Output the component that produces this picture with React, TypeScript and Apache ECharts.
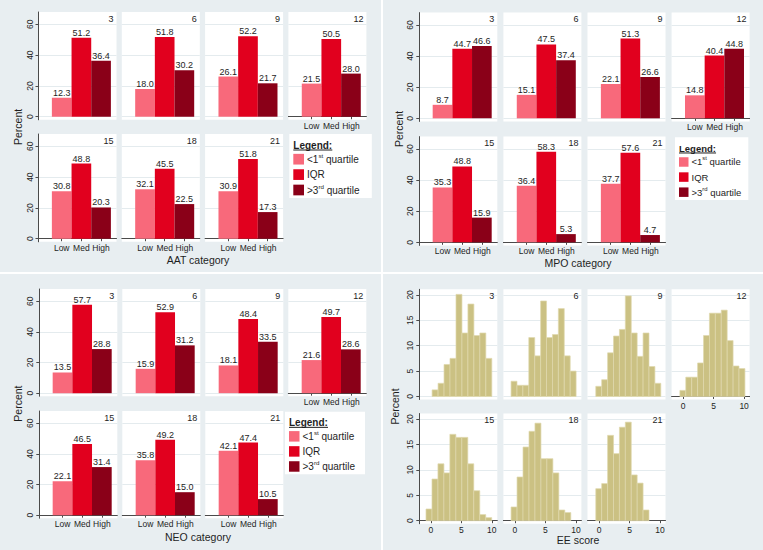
import React, { useEffect, useRef } from "react";
import * as echarts from "echarts";

const FONT = "'Liberation Sans', Arial, Helvetica, sans-serif";
const TEXT = "#1e1e1e";
const AXIS = "#4a4a4a";
const PANEL_BG = "#e8eef1";
const GRID_LINE = "#e4ebee";
const BAR_COLORS = ["#f8697b", "#e1001e", "#8a0018"];
const HIST_FILL = "#cbc183";
const HIST_EDGE = "#e0d9ad";

// ---------- data ----------
const timepoints = ["3", "6", "9", "12", "15", "18", "21"];
const levelCategories = ["Low", "Med", "High"];
const levelPositions = [1, 2, 3];
const legendTitle = "Legend:";
const legendLabels = ["<1{sup|st} quartile", "IQR", ">3{sup|rd} quartile"];
const barPercentTicks = [0, 20, 40, 60];
const histPercentTicks = [0, 5, 10, 15, 20];
const eeScoreTicks = [0, 5, 10];

const aatLow = [12.3, 18.0, 26.1, 21.5, 30.8, 32.1, 30.9];
const aatMed = [51.2, 51.8, 52.2, 50.5, 48.8, 45.5, 51.8];
const aatHigh = [36.4, 30.2, 21.7, 28.0, 20.3, 22.5, 17.3];

const mpoLow = [8.7, 15.1, 22.1, 14.8, 35.3, 36.4, 37.7];
const mpoMed = [44.7, 47.5, 51.3, 40.4, 48.8, 58.3, 57.6];
const mpoHigh = [46.6, 37.4, 26.6, 44.8, 15.9, 5.3, 4.7];

const neoLow = [13.5, 15.9, 18.1, 21.6, 22.1, 35.8, 42.1];
const neoMed = [57.7, 52.9, 48.4, 49.7, 46.5, 49.2, 47.4];
const neoHigh = [28.8, 31.2, 33.5, 28.6, 31.4, 15.0, 10.5];

const eeBinStart = [0.2, -0.64, -0.54, -0.54, -0.8, -0.64, -0.54];
const eeBinWidth = [0.98, 0.97, 0.97, 0.97, 0.98, 0.98, 0.97];
const ee3 = [1.3, 2.6, 6.3, 7.5, 20.1, 12.5, 18.2, 12.0, 12.5, 7.5];
const ee6 = [3.0, 2.2, 2.2, 11.6, 8.0, 18.8, 11.6, 12.2, 17.3, 8.0, 5.0];
const ee9 = [2.0, 3.3, 8.6, 11.9, 13.2, 19.8, 12.5, 7.9, 12.5, 5.9, 2.6];
const ee12 = [1.2, 3.8, 3.8, 6.6, 12.0, 16.4, 16.4, 17.0, 11.0, 6.0, 5.5];
const ee15 = [2.3, 8.2, 11.2, 9.4, 17.0, 16.4, 16.4, 11.2, 5.9, 1.2, 0.6];
const ee18 = [2.7, 8.6, 14.5, 17.6, 19.2, 12.2, 12.2, 9.4, 2.1, 1.6];
const ee21 = [6.3, 7.3, 16.8, 13.2, 18.4, 19.4, 9.0, 7.4, 2.1];
const eeHeights = [ee3, ee6, ee9, ee12, ee15, ee18, ee21];

// ---------- layout ----------
const BOX_W = 78;
const BAR_X_MIN = -0.18;
const BAR_X_MAX = 3.785;
const HIST_X_MIN = -1.9;
const HIST_X_MAX = 10.9;

type Legend = { x: number; y: number; w: number; h: number; fs: number; sw: number };
type Panel = {
  kind: "bar" | "hist";
  ox: number;
  oy: number;
  colLeft: number;
  colStep: number;
  rowTops: number[];
  rowH: number;
  yMin: number;
  yMax: number;
  percentX: number;
  title: string;
  titleY: number;
  legend?: Legend;
  series?: number[][];
};

const panels: Panel[] = [
  {
    kind: "bar", ox: 0, oy: 0, colLeft: 38.5, colStep: 83.3, rowTops: [12, 134], rowH: 70 * 1.54,
    yMin: -2, yMax: 68, percentX: 18, title: "AAT category", titleY: 260,
    legend: { x: 289.3, y: 134, w: 82.5, h: 64, fs: 10, sw: 10.7 },
    series: [aatLow, aatMed, aatHigh],
  },
  {
    kind: "bar", ox: 380, oy: 0, colLeft: 39.3, colStep: 84.1, rowTops: [12.6, 136.6], rowH: 70 * 1.555,
    yMin: -2, yMax: 68, percentX: 18.5, title: "MPO category", titleY: 263,
    legend: { x: 295, y: 137.3, w: 73.3, h: 62.7, fs: 9.5, sw: 9.5 },
    series: [mpoLow, mpoMed, mpoHigh],
  },
  {
    kind: "bar", ox: 0, oy: 274, colLeft: 39.3, colStep: 83, rowTops: [15, 137], rowH: 70 * 1.532,
    yMin: -2, yMax: 68, percentX: 18, title: "NEO category", titleY: 262.5,
    legend: { x: 285, y: 137.7, w: 80, h: 62.6, fs: 10, sw: 10.5 },
    series: [neoLow, neoMed, neoHigh],
  },
  {
    kind: "hist", ox: 380, oy: 274, colLeft: 39.3, colStep: 84.1, rowTops: [15.3, 139.5], rowH: 21.7 * 5.08,
    yMin: -0.6, yMax: 21.1, percentX: 15, title: "EE score", titleY: 265.5,
  },
];

function buildOption() {
  const grid: any[] = [];
  const xAxis: any[] = [];
  const yAxis: any[] = [];
  const series: any[] = [];
  const graphic: any[] = [];

  graphic.push({ type: "rect", shape: { x: 381, y: 0, width: 2, height: 550 }, style: { fill: "#ffffff" }, z: 100 });
  graphic.push({ type: "rect", shape: { x: 0, y: 272, width: 763, height: 2 }, style: { fill: "#ffffff" }, z: 100 });

  panels.forEach((p) => {
    const isBar = p.kind === "bar";
    for (let i = 0; i < 7; i++) {
      const row = i < 4 ? 0 : 1;
      const col = i < 4 ? i : i - 4;
      const left = p.ox + p.colLeft + col * p.colStep;
      const top = p.oy + p.rowTops[row];
      const g = grid.length;
      const showX = i >= 3;
      const showY = col === 0;
      grid.push({ left, top, width: BOX_W, height: p.rowH, show: true, backgroundColor: "#ffffff", borderWidth: 0 });

      const xTicks = isBar ? levelPositions : eeScoreTicks;
      xAxis.push({
        type: "value",
        gridIndex: g,
        min: isBar ? BAR_X_MIN : HIST_X_MIN,
        max: isBar ? BAR_X_MAX : HIST_X_MAX,
        axisLine: { show: showX, onZero: true, lineStyle: { color: AXIS, width: 1 } },
        axisTick: { show: showX, customValues: xTicks, length: 2.5, lineStyle: { color: AXIS } },
        axisLabel: {
          show: showX,
          customValues: xTicks,
          formatter: (v: number) => (isBar ? levelCategories[Math.round(v) - 1] ?? "" : String(v)),
          fontSize: 8.5,
          margin: 1.5,
          color: TEXT,
          fontFamily: FONT,
        },
        splitLine: { show: false },
      });
      const yTicks = isBar ? barPercentTicks : histPercentTicks;
      yAxis.push({
        type: "value",
        gridIndex: g,
        min: p.yMin,
        max: p.yMax,
        axisLine: { show: showY, onZero: false, lineStyle: { color: AXIS, width: 1 } },
        axisTick: { show: showY, customValues: yTicks, length: 3, lineStyle: { color: AXIS } },
        axisLabel: {
          show: showY,
          customValues: yTicks,
          rotate: 90,
          fontSize: 8.5,
          margin: 4.5,
          color: TEXT,
          fontFamily: FONT,
        },
        splitLine: { show: true, lineStyle: { color: GRID_LINE, width: 1 } },
      });

      if (isBar && p.series) {
        const vals = p.series;
        series.push({
          type: "bar",
          xAxisIndex: g,
          yAxisIndex: g,
          barWidth: BOX_W / (BAR_X_MAX - BAR_X_MIN),
          data: levelPositions.map((x, k) => ({ value: [x, vals[k][i]], itemStyle: { color: BAR_COLORS[k] } })),
          label: {
            show: true,
            position: "top",
            distance: 0.5,
            fontSize: 9,
            color: TEXT,
            fontFamily: FONT,
            formatter: (pp: any) => Number(pp.value[1]).toFixed(1),
          },
        });
      } else {
        const heights = eeHeights[i];
        const s0 = eeBinStart[i];
        const w = eeBinWidth[i];
        series.push({
          type: "custom",
          xAxisIndex: g,
          yAxisIndex: g,
          data: heights.map((h, k) => [s0 + k * w, s0 + (k + 1) * w, h]),
          encode: { x: [0, 1], y: 2 },
          renderItem: (_params: any, api: any) => {
            const a = api.coord([api.value(0), api.value(2)]);
            const b = api.coord([api.value(1), 0]);
            return {
              type: "rect",
              shape: { x: a[0], y: a[1], width: b[0] - a[0], height: b[1] - a[1] },
              style: { fill: HIST_FILL, stroke: HIST_EDGE, lineWidth: 0.7 },
            };
          },
        });
      }

      graphic.push({
        type: "text",
        x: left + BOX_W - 3,
        y: top + 6.5,
        z: 50,
        style: { text: timepoints[i], fontSize: 9, fontFamily: FONT, fill: TEXT, align: "right", verticalAlign: "middle" },
      });
    }

    graphic.push({
      type: "text",
      x: p.ox + p.percentX,
      y: p.oy + (p.rowTops[0] + p.rowTops[1] + p.rowH) / 2,
      rotation: Math.PI / 2,
      z: 50,
      style: { text: "Percent", fontSize: 10.5, fontFamily: FONT, fill: TEXT, align: "center", verticalAlign: "middle" },
    });
    graphic.push({
      type: "text",
      x: p.ox + 198,
      y: p.oy + p.titleY,
      z: 50,
      style: { text: p.title, fontSize: 10.5, fontFamily: FONT, fill: TEXT, align: "center", verticalAlign: "middle" },
    });

    if (p.legend) {
      const L = p.legend;
      const s = L.h / 64;
      const lx = p.ox + L.x;
      const ly = p.oy + L.y;
      graphic.push({ type: "rect", z: 50, shape: { x: lx, y: ly, width: L.w, height: L.h }, style: { fill: "#ffffff" } });
      graphic.push({
        type: "text",
        x: lx + 4,
        y: ly + 11 * s,
        z: 51,
        style: { text: legendTitle, fontSize: L.fs, fontWeight: "bold", fontFamily: FONT, fill: TEXT, align: "left", verticalAlign: "middle" },
      });
      graphic.push({
        type: "line",
        z: 51,
        shape: { x1: lx + 4, y1: ly + 16 * s, x2: lx + 4 + 3.9 * L.fs, y2: ly + 16 * s },
        style: { stroke: TEXT, lineWidth: 1 },
      });
      legendLabels.forEach((lab, k) => {
        const cy = ly + (25.2 + 15.4 * k) * s;
        graphic.push({
          type: "rect",
          z: 51,
          shape: { x: lx + 4, y: cy - L.sw / 2, width: L.sw, height: L.sw },
          style: { fill: BAR_COLORS[k] },
        });
        graphic.push({
          type: "text",
          x: lx + 4 + L.sw + 3,
          y: cy,
          z: 51,
          style: {
            text: lab,
            fontSize: L.fs,
            fontFamily: FONT,
            fill: TEXT,
            align: "left",
            verticalAlign: "middle",
            lineHeight: L.fs * 1.4,
            rich: {
              sup: { fontSize: L.fs * 0.62, fontFamily: FONT, fill: TEXT, verticalAlign: "top", lineHeight: L.fs * 0.7 },
            },
          },
        });
      });
    }
  });

  return {
    animation: false,
    backgroundColor: PANEL_BG,
    grid,
    xAxis,
    yAxis,
    series,
    graphic,
  };
}

export default function App() {
  const ref = useRef<HTMLDivElement>(null);
  useEffect(() => {
    if (!ref.current) return;
    const chart = echarts.init(ref.current, undefined, { renderer: "svg" });
    chart.setOption(buildOption() as any);
    return () => chart.dispose();
  }, []);
  return <div ref={ref} style={{ position: "fixed", left: 0, top: 0, width: 763, height: 550 }} />;
}
